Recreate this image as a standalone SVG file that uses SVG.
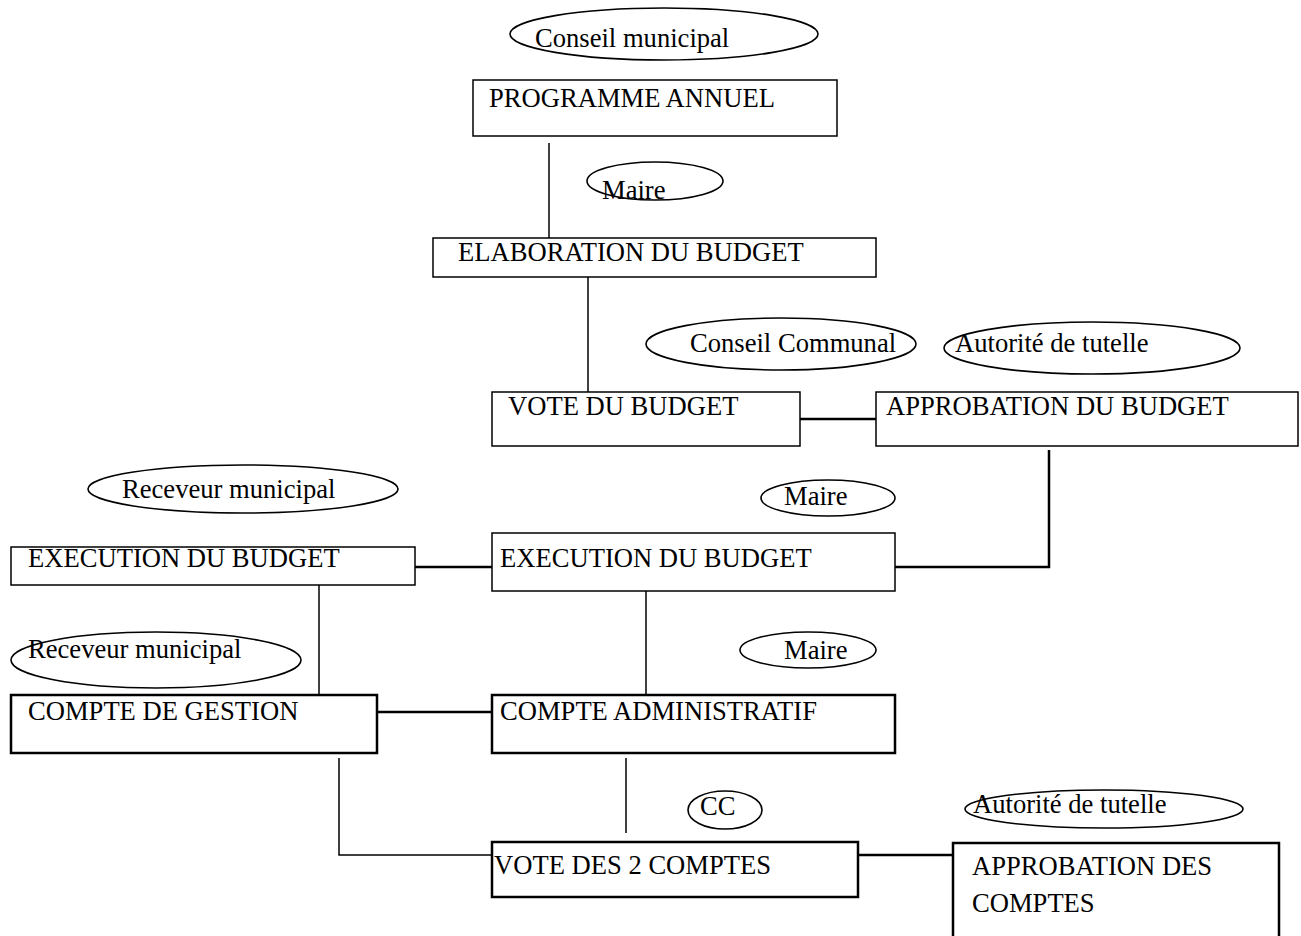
<svg xmlns="http://www.w3.org/2000/svg" width="1301" height="936" viewBox="0 0 1301 936">
<style>
text{font-family:"Liberation Serif","Times New Roman",serif;font-size:26.6px;fill:#000}
.b{fill:#fff;stroke:#000;stroke-width:1.5}
.bt{fill:#fff;stroke:#000;stroke-width:2.5}
.e{fill:none;stroke:#000;stroke-width:1.6}
.c{fill:none;stroke:#000;stroke-width:1.5}
.ct{fill:none;stroke:#000;stroke-width:2.5}
</style>
<rect width="1301" height="936" fill="#fff"/>
<g id="connectors">
<line class="c" x1="549" y1="143" x2="549" y2="238"/>
<line class="c" x1="588" y1="277" x2="588" y2="395"/>
<line class="ct" x1="800" y1="419" x2="876" y2="419"/>
<polyline class="ct" points="1049,450 1049,567 895,567"/>
<line class="ct" x1="415" y1="567" x2="492" y2="567"/>
<line class="c" x1="319" y1="584" x2="319" y2="700"/>
<line class="c" x1="646" y1="584" x2="646" y2="700"/>
<line class="ct" x1="377" y1="712" x2="492" y2="712"/>
<polyline class="c" points="339,758 339,855 492,855"/>
<line class="c" x1="626" y1="758" x2="626" y2="833"/>
<line class="ct" x1="858" y1="855" x2="953" y2="855"/>
</g>
<g id="e-conseil-municipal"><ellipse class="e" cx="664" cy="34" rx="154" ry="26"/><text x="535" y="47">Conseil municipal</text></g>
<g id="programme-annuel"><rect class="b" x="473" y="80" width="364" height="56"/><text x="489" y="107">PROGRAMME ANNUEL</text></g>
<g id="e-maire-1"><ellipse class="e" cx="655" cy="181" rx="68" ry="19"/><text x="602" y="199">Maire</text></g>
<g id="elaboration"><rect class="b" x="433" y="238" width="443" height="39"/><text x="458" y="261">ELABORATION DU BUDGET</text></g>
<g id="e-conseil-communal"><ellipse class="e" cx="781" cy="344" rx="135" ry="26"/><text x="690" y="352">Conseil Communal</text></g>
<g id="e-autorite-1"><ellipse class="e" cx="1092" cy="348" rx="148" ry="26"/><text x="955" y="352">Autorité de tutelle</text></g>
<g id="vote-budget"><rect class="b" x="492" y="392" width="308" height="54"/><text x="508" y="415">VOTE DU BUDGET</text></g>
<g id="approbation-budget"><rect class="b" x="876" y="392" width="422" height="54"/><text x="886" y="415">APPROBATION DU BUDGET</text></g>
<g id="e-receveur-1"><ellipse class="e" cx="243" cy="489" rx="155" ry="24"/><text x="122" y="498">Receveur municipal</text></g>
<g id="e-maire-2"><ellipse class="e" cx="828" cy="498" rx="67" ry="18"/><text x="784" y="505">Maire</text></g>
<g id="execution-left"><rect class="b" x="11" y="547" width="404" height="38"/><text x="28" y="567">EXECUTION DU BUDGET</text></g>
<g id="execution-mid"><rect class="b" x="492" y="533" width="403" height="58"/><text x="500" y="567">EXECUTION DU BUDGET</text></g>
<g id="e-receveur-2"><ellipse class="e" cx="156" cy="660" rx="145" ry="28"/><text x="28" y="658">Receveur municipal</text></g>
<g id="e-maire-3"><ellipse class="e" cx="808" cy="650" rx="68" ry="18"/><text x="784" y="659">Maire</text></g>
<g id="compte-gestion"><rect class="bt" x="11" y="695" width="366" height="58"/><text x="28" y="720">COMPTE DE GESTION</text></g>
<g id="compte-administratif"><rect class="bt" x="492" y="695" width="403" height="58"/><text x="500" y="720">COMPTE ADMINISTRATIF</text></g>
<g id="e-cc"><ellipse class="e" cx="725" cy="810" rx="37" ry="19"/><text x="700" y="815">CC</text></g>
<g id="e-autorite-2"><ellipse class="e" cx="1104" cy="809" rx="139" ry="19"/><text x="973" y="813">Autorité de tutelle</text></g>
<g id="vote-comptes"><rect class="bt" x="492" y="842" width="366" height="55"/><text x="494" y="874">VOTE DES 2 COMPTES</text></g>
<g id="approbation-comptes"><rect class="bt" x="953" y="843" width="326" height="110"/><text x="972" y="875">APPROBATION DES</text><text x="972" y="912">COMPTES</text></g>
</svg>
